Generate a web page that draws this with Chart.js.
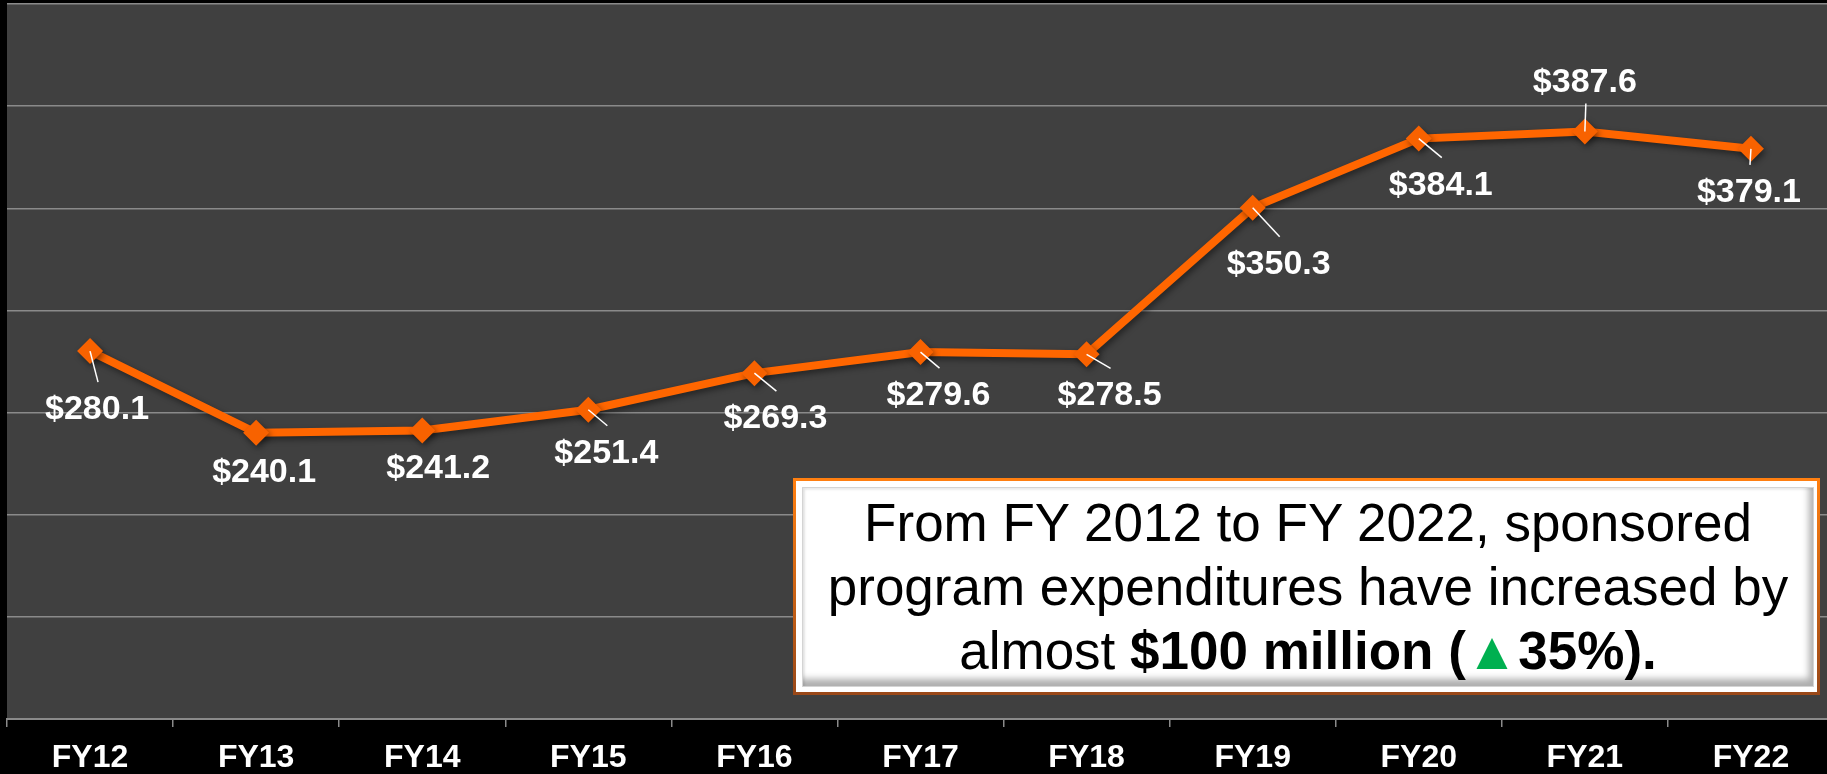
<!DOCTYPE html>
<html>
<head>
<meta charset="utf-8">
<script src="https://cdn.jsdelivr.net/npm/chart.js@4"></script>
<style>
  html, body { margin: 0; padding: 0; background: #000; overflow: hidden; }
  #wrap { position: absolute; left: 0; top: 0; width: 1834px; height: 774px; }
  #callout {
    position: absolute; left: 793px; top: 478px; width: 1027px; height: 217px;
    box-sizing: border-box; background: #fff;
    border: 3px solid; border-image: linear-gradient(#ff7f10, #9a4818) 1;
  }
  #callout .inner {
    position: absolute; left: 6px; top: 6px; right: 3px; bottom: 5px;
    border: 1px solid #d4d4d4;
    box-shadow: inset -4px -7px 7px rgba(0,0,0,0.32), inset 2px 2px 2px rgba(0,0,0,0.08);
  }
  #callout p {
    position: absolute; left: 0; right: 0; top: 3px; margin: 0;
    font-family: 'Liberation Sans', Arial, sans-serif; font-size: 53px; line-height: 64px;
    text-align: center; color: #000;
  }
  #callout .up { color: #00b050; }
</style>
</head>
<body>
<div id="wrap"><canvas id="expChart"></canvas></div>
<div id="callout">
  <div class="inner">
    <p>From FY 2012 to FY 2022, sponsored<br>program expenditures have increased by<br>almost <b>$100 million (<span class="up">▲</span>35%).</b></p>
  </div>
</div>
<script>
const categories = ["FY12", "FY13", "FY14", "FY15", "FY16", "FY17", "FY18", "FY19", "FY20", "FY21", "FY22"];
const expenditures = [280.1, 240.1, 241.2, 251.4, 269.3, 279.6, 278.5, 350.3, 384.1, 387.6, 379.1];
const valueLabels = expenditures.map((v) => "$" + v.toFixed(1));
const yMin = 100;
const yMax = 450;
const yStep = 50;

// label baseline offset from its marker, like the hand placed labels in the slide
const labelOffsets = [
  [7, 68], [8, 49], [16, 47], [18, 53], [21, 55], [18, 53],
  [23, 51], [26, 66], [22, 56], [0, -39], [-2, 53],
];

const FONT = "'Liberation Sans', Arial, sans-serif";

const plotBackground = {
  id: "plotBackground",
  beforeDraw(chart) {
    const { ctx, chartArea } = chart;
    ctx.save();
    ctx.fillStyle = "#404040";
    ctx.fillRect(chartArea.left, chartArea.top, chartArea.right - chartArea.left, chartArea.bottom - chartArea.top);
    ctx.restore();
  },
};

const markerShadow = {
  id: "markerShadow",
  beforeDatasetsDraw(chart) {
    const ctx = chart.ctx;
    ctx.save();
    ctx.shadowColor = "rgba(0,0,0,0.45)";
    ctx.shadowBlur = 6;
    ctx.shadowOffsetX = 2;
    ctx.shadowOffsetY = 3;
  },
  afterDatasetsDraw(chart) {
    chart.ctx.restore();
  },
};

const valueLabelPlugin = {
  id: "valueLabels",
  afterDraw(chart) {
    const ctx = chart.ctx;
    const points = chart.getDatasetMeta(0).data;
    ctx.save();
    ctx.font = "bold 34px " + FONT;
    ctx.textAlign = "center";
    ctx.textBaseline = "alphabetic";
    ctx.fillStyle = "#fff";
    ctx.strokeStyle = "#fff";
    ctx.lineWidth = 1.5;
    points.forEach((pt, i) => {
      const [dx, dy] = labelOffsets[i];
      const tx = pt.x + dx;
      const ty = pt.y + dy;
      const ex = tx + 1;
      const ey = dy > 0 ? ty - 37 : ty + 11;
      // short leaders are hidden, as in the original
      if (Math.abs(ey - pt.y) > 13) {
        ctx.beginPath();
        ctx.moveTo(pt.x, pt.y);
        ctx.lineTo(ex, ey);
        ctx.stroke();
      }
      ctx.fillText(valueLabels[i], tx, ty);
    });
    ctx.restore();
  },
};

const ctx = document.getElementById("expChart").getContext("2d");

const expChart = new Chart(ctx, {
  type: "line",
  data: {
    labels: categories,
    datasets: [
      {
        label: "Sponsored program expenditures",
        data: expenditures,
        borderColor: "#ff6600",
        borderWidth: 8,
        tension: 0,
        fill: false,
        pointStyle: "rectRot",
        pointRadius: 13,
        pointBackgroundColor: "#f86200",
        pointBorderColor: "#f86200",
        pointBorderWidth: 0,
      },
    ],
  },
  options: {
    responsive: true,
    maintainAspectRatio: false,
    animation: false,
    layout: { autoPadding: false, padding: { left: 7, top: 4, right: 0, bottom: 0 } },
    plugins: {
      legend: { display: false },
      tooltip: { enabled: false },
    },
    scales: {
      x: {
        offset: true,
        afterFit: (scale) => {
          scale.height = 55;
        },
        grid: {
          offset: true,
          drawOnChartArea: false,
          drawTicks: true,
          tickLength: 8,
          color: "#8a8a8a",
          lineWidth: 1.5,
        },
        border: { display: true, color: "#8a8a8a", width: 2 },
        ticks: {
          color: "#fff",
          font: { family: FONT, size: 32, weight: "bold", lineHeight: 1 },
          padding: 14.7,
          maxRotation: 0,
          autoSkip: false,
        },
      },
      y: {
        min: yMin,
        max: yMax,
        ticks: { display: false, stepSize: yStep },
        grid: { color: "#8a8a8a", lineWidth: 1.5, drawTicks: false },
        border: { display: false },
      },
    },
  },
  plugins: [plotBackground, markerShadow, valueLabelPlugin],
});
</script>
</body>
</html>
